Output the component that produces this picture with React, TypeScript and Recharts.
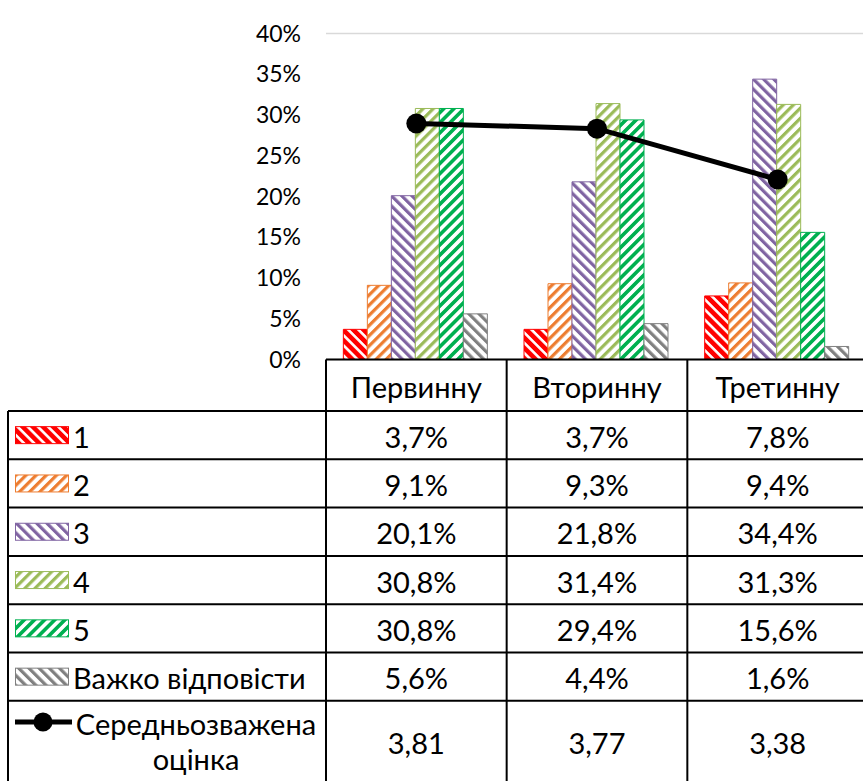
import React from 'react';
import { ComposedChart, Bar, Line, XAxis, YAxis, CartesianGrid } from 'recharts';

const categories = ['Первинну', 'Вторинну', 'Третинну'];
const rating1 = [3.7, 3.7, 7.8];
const rating2 = [9.1, 9.3, 9.4];
const rating3 = [20.1, 21.8, 34.4];
const rating4 = [30.8, 31.4, 31.3];
const rating5 = [30.8, 29.4, 15.6];
const hardToSay = [5.6, 4.4, 1.6];
const weightedAvg = [3.81, 3.77, 3.38];
const yTicks = [0, 5, 10, 15, 20, 25, 30, 35, 40];
const barNames = ['1', '2', '3', '4', '5', 'Важко відповісти'];
const lineNameLines = ['Середньозважена', 'оцінка'];

const barSeries = [
  { key: 's1', values: rating1, color: '#FF0000', dir: 'down', w: 4.6 },
  { key: 's2', values: rating2, color: '#ED7D31', dir: 'up', w: 3.2 },
  { key: 's3', values: rating3, color: '#8064A2', dir: 'down', w: 3.2 },
  { key: 's4', values: rating4, color: '#9BBB59', dir: 'up', w: 3.2 },
  { key: 's5', values: rating5, color: '#00B050', dir: 'up', w: 3.6 },
  { key: 's6', values: hardToSay, color: '#808080', dir: 'down', w: 3.2 },
];

const data = categories.map((cat, i) => {
  const row: any = { cat, avg: weightedAvg[i] };
  barSeries.forEach((s) => (row[s.key] = s.values[i]));
  return row;
});

const FONT = 'Lato, "Liberation Sans", sans-serif';
const PLOT_LEFT = 326;
const PLOT_RIGHT = 868;
const PLOT_TOP = 33.5;
const PLOT_BOTTOM = 359.5;
const BAND = (PLOT_RIGHT - PLOT_LEFT) / categories.length;
const TABLE_LEFT = 8;
const HEADER_BOTTOM = 411;
const ROW_H = 48.3;
const LAST_ROW_H = 82;
const TABLE_FS = 29;
const AXIS_FS = 23;

const fmtPct = (v: number) => v.toFixed(1).replace('.', ',') + '%';
const fmtAvg = (v: number) => v.toFixed(2).replace('.', ',');

function Patterns() {
  return (
    <svg width={0} height={0} style={{ position: 'absolute', left: 0, top: 0 }}>
      <defs>
        {barSeries.map((s) => (
          <pattern
            key={s.key}
            id={'pat-' + s.key}
            patternUnits="userSpaceOnUse"
            width={7.2}
            height={7.2}
            patternTransform={`rotate(${s.dir === 'down' ? -45 : 45})`}
          >
            <rect x={0} y={0} width={7.2} height={7.2} fill="#fff" />
            <rect x={0} y={0} width={s.w} height={7.2} fill={s.color} />
          </pattern>
        ))}
      </defs>
    </svg>
  );
}

function Table() {
  const rowTops: number[] = [];
  let y = HEADER_BOTTOM;
  barSeries.forEach(() => {
    rowTops.push(y);
    y += ROW_H;
  });
  const lastTop = y;
  const bottom = lastTop + LAST_ROW_H;
  const colX = categories.map((_, i) => PLOT_LEFT + BAND * i);
  const lineColor = '#000';
  const fs = TABLE_FS;
  return (
    <svg width={880} height={800} style={{ position: 'absolute', left: 0, top: 0 }}>
      {categories.map((c, i) => (
        <text key={c} x={colX[i] + BAND / 2} y={(PLOT_BOTTOM + HEADER_BOTTOM) / 2 + 1} textAnchor="middle" dominantBaseline="central" fontSize={fs} fontFamily={FONT} fill="#000">
          {c}
        </text>
      ))}
      {barSeries.map((s, r) => {
        const cy = rowTops[r] + ROW_H / 2;
        return (
          <g key={s.key}>
            <rect x={15.5} y={cy - 8.5} width={53} height={17} fill={`url(#pat-${s.key})`} stroke={s.color} strokeWidth={1} />
            <text x={73} y={cy + 1} dominantBaseline="central" fontSize={fs} fontFamily={FONT} fill="#000">
              {barNames[r]}
            </text>
            {s.values.map((v, i) => (
              <text key={i} x={colX[i] + BAND / 2} y={cy + 1} textAnchor="middle" dominantBaseline="central" fontSize={fs} fontFamily={FONT} fill="#000">
                {fmtPct(v)}
              </text>
            ))}
          </g>
        );
      })}
      <line x1={15} x2={72} y1={722} y2={722} stroke="#000" strokeWidth={5} />
      <circle cx={43} cy={722} r={9.5} fill="#000" />
      {lineNameLines.map((t, k) => (
        <text key={t} x={196} y={723 + k * 35} textAnchor="middle" dominantBaseline="central" fontSize={fs} fontFamily={FONT} fill="#000">
          {t}
        </text>
      ))}
      {weightedAvg.map((v, i) => (
        <text key={i} x={colX[i] + BAND / 2} y={lastTop + 42} textAnchor="middle" dominantBaseline="central" fontSize={fs} fontFamily={FONT} fill="#000">
          {fmtAvg(v)}
        </text>
      ))}
      <line x1={PLOT_LEFT} x2={PLOT_RIGHT} y1={PLOT_BOTTOM} y2={PLOT_BOTTOM} stroke={lineColor} strokeWidth={2} />
      {[...rowTops, lastTop].map((ty, k) => (
        <line key={k} x1={TABLE_LEFT} x2={PLOT_RIGHT} y1={ty} y2={ty} stroke={lineColor} strokeWidth={2} />
      ))}
      <line x1={TABLE_LEFT} x2={PLOT_RIGHT} y1={bottom} y2={bottom} stroke={lineColor} strokeWidth={2} />
      <line x1={TABLE_LEFT} x2={TABLE_LEFT} y1={HEADER_BOTTOM} y2={bottom} stroke={lineColor} strokeWidth={2} />
      {[...colX, PLOT_RIGHT].map((cx, k) => (
        <line key={k} x1={cx} x2={cx} y1={PLOT_BOTTOM} y2={bottom} stroke={lineColor} strokeWidth={2} />
      ))}
    </svg>
  );
}

export default function App() {
  return (
    <div style={{ position: 'absolute', left: 0, top: 0, width: 863, height: 781, overflow: 'hidden', background: '#fff', fontFamily: FONT }}>
      <Patterns />
      <div style={{ position: 'absolute', left: 0, top: 0 }}>
        <ComposedChart
          width={PLOT_RIGHT + 2}
          height={PLOT_BOTTOM + 30}
          data={data}
          margin={{ top: PLOT_TOP, right: 2, bottom: 30, left: 0 }}
          barCategoryGap="9.6%"
          barGap={0}
        >
          <CartesianGrid vertical={false} stroke="#d9d9d9" strokeWidth={1.5} />
          <XAxis dataKey="cat" hide />
          <YAxis
            yAxisId="left"
            width={PLOT_LEFT}
            domain={[0, 40]}
            ticks={yTicks}
            interval={0}
            axisLine={false}
            tickLine={false}
            tickSize={0}
            tickMargin={25}
            tickFormatter={(v: number) => `${v}%`}
            tick={{ fontSize: AXIS_FS, fontFamily: FONT, fill: '#000' }}
          />
          <YAxis yAxisId="right" orientation="right" domain={[2, 4.5]} hide />
          {barSeries.map((s, i) => (
            <Bar
              key={s.key}
              yAxisId="left"
              dataKey={s.key}
              name={barNames[i]}
              fill={`url(#pat-${s.key})`}
              stroke={s.color}
              strokeWidth={1}
              isAnimationActive={false}
            />
          ))}
          <Line
            yAxisId="right"
            dataKey="avg"
            name={lineNameLines.join(' ')}
            stroke="#000"
            strokeWidth={5}
            dot={{ r: 10, fill: '#000', stroke: '#000', strokeWidth: 0 }}
            activeDot={false}
            isAnimationActive={false}
          />
        </ComposedChart>
      </div>
      <Table />
    </div>
  );
}
